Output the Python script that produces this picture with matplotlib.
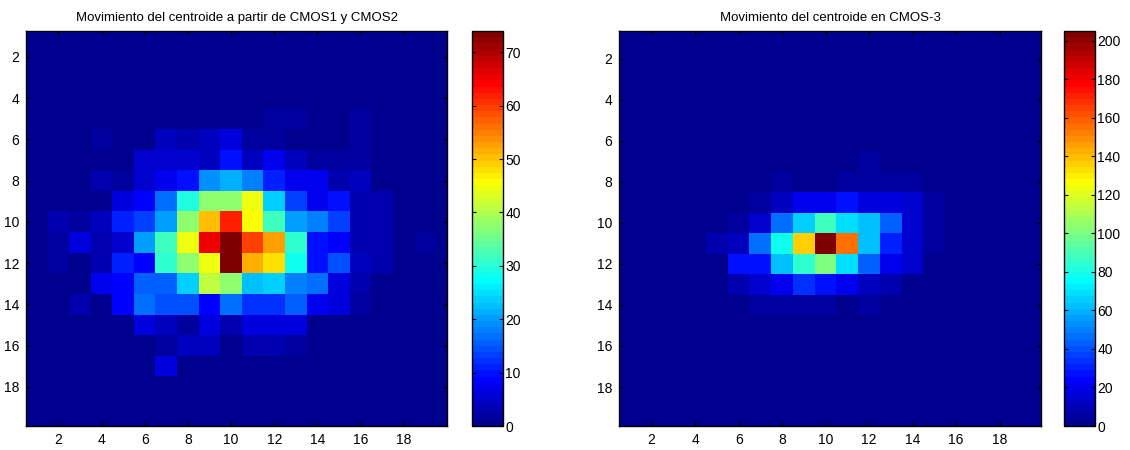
import numpy as np
import matplotlib
matplotlib.use("Agg")
import matplotlib.pyplot as plt
from matplotlib.colors import ListedColormap

plt.rcParams['font.family'] = ['Liberation Sans', 'DejaVu Sans']

# ---------------- data (rows 1..20, cols 1..20) ----------------
titles = ["Movimiento del centroide a partir de CMOS1 y CMOS2",
          "Movimiento del centroide en CMOS-3"]
tick_vals = [2, 4, 6, 8, 10, 12, 14, 16, 18]
cbar_ticks_left = [0, 10, 20, 30, 40, 50, 60, 70]
cbar_ticks_right = [0, 20, 40, 60, 80, 100, 120, 140, 160, 180, 200]

cmos12 = [
    # 1  2  3  4  5   6   7   8   9  10  11  12  13  14  15  16 17 18 19 20
    [0, 0, 0, 0, 0, 0, 0, 0, 0, 0, 0, 0, 0, 0, 0, 0, 0, 0, 0, 0],           # 1
    [0, 0, 0, 0, 0, 0, 0, 0, 0, 0, 0, 0, 0, 0, 0, 0, 0, 0, 0, 0],           # 2
    [0, 0, 0, 0, 0, 0, 0, 0, 0, 0, 0, 0, 0, 0, 0, 0, 0, 0, 0, 0],           # 3
    [0, 0, 0, 0, 0, 0, 0, 0, 0, 0, 0, 0, 0, 0, 0, 0, 0, 0, 0, 0],           # 4
    [0, 0, 0, 0, 0, 0, 0, 0, 0, 0, 0, 2, 2, 0, 0, 2, 0, 0, 0, 0],           # 5
    [0, 0, 0, 2, 0, 0, 4, 3, 4.5, 6.5, 2, 2, 1, 1, 1, 2, 0, 0, 0, 0],        # 6
    [0, 0, 0, 0, 0, 5.5, 5.5, 5.5, 4, 10, 4, 8, 4.5, 2, 2, 2, 0, 0, 0, 0],   # 7
    [0, 0, 0, 3, 2, 5.5, 7.4, 10, 19.4, 21, 17.6, 11, 8, 8, 3, 4, 0, 0, 0, 0],  # 8
    [0, 0, 0, 1, 6.5, 8.3, 16.6, 29.6, 38, 38, 44, 24, 13, 7.4, 9.3, 3, 3, 1, 0, 0],  # 9
    [0, 3, 2, 4, 11, 13, 20, 38, 50, 62, 46, 31.5, 20, 17.6, 13, 3, 3, 1, 0, 0],     # 10
    [0, 2, 6.5, 3, 5.5, 20, 32, 45, 65, 74, 59, 53, 31, 10, 9, 3, 3, 1, 2, 0],        # 11
    [0, 2, 1, 3, 11, 9, 31, 38, 44, 73, 52, 48, 28, 10, 14, 3.7, 3, 0, 0, 0],         # 12
    [0, 0, 0, 7, 9, 15.7, 15.7, 24, 41.6, 38, 23, 24, 17.6, 16.7, 6.5, 3, 0, 0, 0, 0],  # 13
    [0, 0, 3, 1, 8.3, 16.6, 14.8, 14.8, 8.3, 16.7, 12, 12, 15.7, 7.4, 6.5, 2, 0, 0, 0, 0],  # 14
    [0, 0, 0, 0, 0, 6.5, 4.5, 2, 6.5, 3, 6.5, 6.5, 6.5, 0, 0, 0, 0, 0, 0, 0],  # 15
    [0, 0, 0, 0, 0, 0, 2, 4.5, 4.5, 0, 3, 3, 2, 0, 0, 0, 0, 0, 0, 0],         # 16
    [0, 0, 0, 0, 0, 0, 6, 0, 0, 0, 0, 0, 0, 0, 0, 0, 0, 0, 0, 0],             # 17
    [0, 0, 0, 0, 0, 0, 0, 0, 0, 0, 0, 0, 0, 0, 0, 0, 0, 0, 0, 0],             # 18
    [0, 0, 0, 0, 0, 0, 0, 0, 0, 0, 0, 0, 0, 0, 0, 0, 0, 0, 0, 0],             # 19
    [0, 0, 0, 0, 0, 0, 0, 0, 0, 0, 0, 0, 0, 0, 0, 0, 0, 0, 0, 0],             # 20
]

cmos3 = [
    # 1  2  3  4  5   6   7   8    9   10   11  12  13  14 15 16 17 18 19 20
    [0, 0, 0, 0, 0, 0, 0, 0, 0, 0, 0, 0, 0, 0, 0, 0, 0, 0, 0, 0],           # 1
    [0, 0, 0, 0, 0, 0, 0, 0, 0, 0, 0, 0, 0, 0, 0, 0, 0, 0, 0, 0],           # 2
    [0, 0, 0, 0, 0, 0, 0, 0, 0, 0, 0, 0, 0, 0, 0, 0, 0, 0, 0, 0],           # 3
    [0, 0, 0, 0, 0, 0, 0, 0, 0, 0, 0, 0, 0, 0, 0, 0, 0, 0, 0, 0],           # 4
    [0, 0, 0, 0, 0, 0, 0, 0, 0, 0, 0, 0, 0, 0, 0, 0, 0, 0, 0, 0],           # 5
    [0, 0, 0, 0, 0, 0, 0, 0, 0, 0, 0, 0, 0, 0, 0, 0, 0, 0, 0, 0],           # 6
    [0, 0, 0, 0, 0, 0, 0, 0, 0, 0, 0, 4, 0, 0, 0, 0, 0, 0, 0, 0],           # 7
    [0, 0, 0, 0, 0, 0, 0, 4, 0, 0, 5, 5, 4, 4, 0, 0, 0, 0, 0, 0],           # 8
    [0, 0, 0, 0, 0, 0, 6, 10, 22, 22, 27, 18, 18, 15, 5, 0, 0, 0, 0, 0],    # 9
    [0, 0, 0, 0, 0, 6, 14, 46, 67, 88, 70, 64, 42, 15, 5, 0, 0, 0, 0, 0],   # 10
    [0, 0, 0, 0, 8, 12, 46, 78, 135, 205, 155, 64, 32, 15, 5, 0, 0, 0, 0, 0],  # 11
    [0, 0, 0, 0, 0, 26, 26, 61, 85, 100, 68, 43, 21, 14, 0, 0, 0, 0, 0, 0],  # 12
    [0, 0, 0, 0, 0, 7, 16, 22, 33, 28, 22, 11, 9, 0, 0, 0, 0, 0, 0, 0],     # 13
    [0, 0, 0, 0, 0, 0, 5, 5, 5, 5, 2, 5, 0, 0, 0, 0, 0, 0, 0, 0],           # 14
    [0, 0, 0, 0, 0, 0, 0, 0, 0, 0, 0, 0, 0, 0, 0, 0, 0, 0, 0, 0],           # 15
    [0, 0, 0, 0, 0, 0, 0, 0, 0, 0, 0, 0, 0, 0, 0, 0, 0, 0, 0, 0],           # 16
    [0, 0, 0, 0, 0, 0, 0, 0, 0, 0, 0, 0, 0, 0, 0, 0, 0, 0, 0, 0],           # 17
    [0, 0, 0, 0, 0, 0, 0, 0, 0, 0, 0, 0, 0, 0, 0, 0, 0, 0, 0, 0],           # 18
    [0, 0, 0, 0, 0, 0, 0, 0, 0, 0, 0, 0, 0, 0, 0, 0, 0, 0, 0, 0],           # 19
    [0, 0, 0, 0, 0, 0, 0, 0, 0, 0, 0, 0, 0, 0, 0, 0, 0, 0, 0, 0],           # 20
]


# ---------------- MATLAB-style jet(64) ----------------
def matlab_jet(m=64):
    n = int(np.ceil(m / 4))
    u = np.concatenate([np.arange(1, n + 1) / n, np.ones(n - 1), np.arange(n, 0, -1) / n])
    g = int(np.ceil(n / 2)) - (1 if m % 4 == 1 else 0) + np.arange(1, len(u) + 1)
    r = g + n
    b = g - n
    J = np.zeros((m, 3))
    for idx, ch in ((r, 0), (g, 1), (b, 2)):
        ok = (idx >= 1) & (idx <= m)
        J[idx[ok] - 1, ch] = u[ok]
    return ListedColormap(J)


cmap = matlab_jet(64)

W, H = 1130, 450
fig = plt.figure(figsize=(W / 100, H / 100), dpi=100)


def px_axes(x0, x1, y0, y1):
    return fig.add_axes([x0 / W, 1 - y1 / H, (x1 - x0) / W, (y1 - y0) / H])


panels = [
    (cmos12, titles[0], (26, 447), (471.5, 502.5), cbar_ticks_left, (0.5, 20.0), (19.9, 0.75)),
    (cmos3, titles[1], (619, 1041), (1064, 1094.5), cbar_ticks_right, (0.5, 19.9), (19.9, 0.65)),
]

for data, title, (ax0, ax1), (cx0, cx1), cticks, xl, yl in panels:
    arr = np.array(data, dtype=float)
    ax = px_axes(ax0, ax1, 31, 426)
    im = ax.imshow(arr, cmap=cmap, vmin=arr.min(), vmax=arr.max(),
                   extent=(0.5, arr.shape[1] + 0.5, arr.shape[0] + 0.5, 0.5),
                   interpolation='nearest', aspect='auto')
    ax.set_xlim(*xl)
    ax.set_ylim(*yl)
    ax.set_xticks(tick_vals)
    ax.set_yticks(tick_vals)
    ax.tick_params(direction='in', top=True, right=True, length=3, width=0.8,
                   labelsize=10, pad=5)
    for s in ax.spines.values():
        s.set_linewidth(1.0)
        s.set_color('black')
    ax.set_title(title, fontsize=9.5, pad=7)

    cax = px_axes(cx0, cx1, 31, 426)
    cb = fig.colorbar(im, cax=cax)
    cb.set_ticks(cticks)
    cb.outline.set_linewidth(1.0)
    cax.tick_params(direction='in', left=True, right=True, length=3, width=0.8,
                    labelsize=10, pad=2)

fig.savefig("out.png", dpi=100)
